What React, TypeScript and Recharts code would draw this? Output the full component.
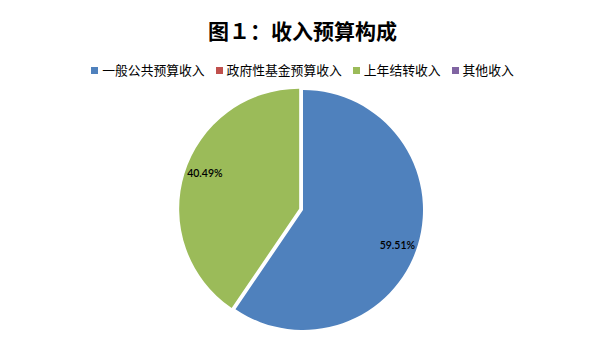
import { Cell, Pie, PieChart } from "recharts";

const categories = ["一般公共预算收入", "政府性基金预算收入", "上年结转收入", "其他收入"];
const shares = [59.51, 0, 40.49, 0];
const colors = ["#4F81BD", "#C0504D", "#9BBB59", "#8064A2"];
const explodedIndex = 2;

const data = categories.map((name, i) => ({ name, value: shares[i] }));

const RADIAN = Math.PI / 180;
const CX = 303;
const CY = 210;
const R = 120;
const EXPLODE = 4;

// mid angle of the pulled-out slice, measured like recharts (deg, ccw from 3 o'clock)
const total = shares.reduce((a, b) => a + b, 0);
const before = shares.slice(0, explodedIndex).reduce((a, b) => a + b, 0);
const midAngle = 90 - ((before + shares[explodedIndex] / 2) / total) * 360;
const dx = EXPLODE * Math.cos(midAngle * RADIAN);
const dy = -EXPLODE * Math.sin(midAngle * RADIAN);

function renderLabel(only: number) {
  return (props: any) => {
    const { cx, cy, midAngle, outerRadius, percent, index } = props;
    if (index !== only && !(only < 0 && index !== explodedIndex)) return null;
    if (!percent) return null;
    // excel puts the labels a touch clockwise of the slice middle
    const a = midAngle - 3.5;
    const r = outerRadius * 0.84;
    const x = cx + r * Math.cos(-a * RADIAN);
    const y = cy + r * Math.sin(-a * RADIAN);
    return (
      <text
        x={x}
        y={y}
        fill="#000"
        fontSize={10.5}
        fontWeight={600}
        fontFamily="Lato, 'Liberation Sans', sans-serif"
        textAnchor="middle"
        dominantBaseline="central"
      >
        {`${(percent * 100).toFixed(2)}%`}
      </text>
    );
  };
}

function LegendRow() {
  return (
    <div
      style={{
        position: "absolute",
        left: 0,
        top: 62,
        width: 605,
        display: "flex",
        justifyContent: "center",
        fontFamily: "'Noto Sans CJK SC', sans-serif",
        fontSize: 12.8,
        color: "#000",
        lineHeight: "16px",
      }}
    >
      {categories.map((c, i) => (
        <div key={c} style={{ display: "flex", alignItems: "center", marginRight: i < categories.length - 1 ? 11 : 0 }}>
          <span style={{ width: 7, height: 7, background: colors[i], display: "inline-block", marginRight: 4 }} />
          <span>{c}</span>
        </div>
      ))}
    </div>
  );
}

export default function App() {
  return (
    <div style={{ position: "absolute", left: 0, top: 0, width: 605, height: 340, background: "#fff" }}>
      <div
        style={{
          position: "absolute",
          left: 0,
          top: 17,
          width: 605,
          textAlign: "center",
          fontFamily: "'Noto Sans CJK SC', sans-serif",
          fontWeight: 700,
          fontSize: 21,
          lineHeight: "26px",
          color: "#000",
        }}
      >
        图１：收入预算构成
      </div>
      <LegendRow />
      <PieChart width={605} height={340} margin={{ top: 0, right: 0, bottom: 0, left: 0 }}>
        <Pie
          data={data}
          dataKey="value"
          nameKey="name"
          cx={CX}
          cy={CY}
          outerRadius={R}
          startAngle={90}
          endAngle={-270}
          stroke="none"
          labelLine={false}
          label={renderLabel(-1)}
          isAnimationActive={false}
        >
          {data.map((d, i) => (
            <Cell key={d.name} fill={i === explodedIndex ? "transparent" : colors[i]} />
          ))}
        </Pie>
        <Pie
          data={data}
          dataKey="value"
          nameKey="name"
          cx={CX + dx}
          cy={CY + dy}
          outerRadius={R}
          startAngle={90}
          endAngle={-270}
          stroke="none"
          labelLine={false}
          label={renderLabel(explodedIndex)}
          legendType="none"
          isAnimationActive={false}
        >
          {data.map((d, i) => (
            <Cell key={d.name} fill={i === explodedIndex ? colors[i] : "transparent"} />
          ))}
        </Pie>
      </PieChart>
    </div>
  );
}
